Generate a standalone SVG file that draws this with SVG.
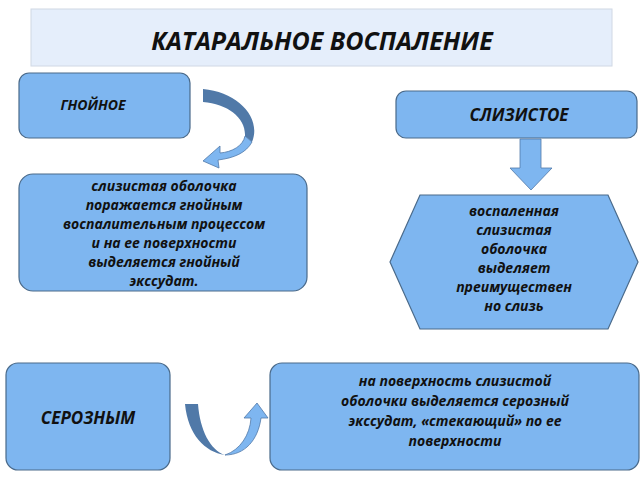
<svg xmlns="http://www.w3.org/2000/svg" width="640" height="480" viewBox="0 0 640 480">
<style>
.n{fill:#7eb6f0;stroke:#4a6a8a;stroke-width:1.2}
.t{font-family:"Open Sans","DejaVu Sans",sans-serif;font-weight:bold;font-style:italic;fill:#111;text-anchor:middle}
.s{font-size:14px}
.d{fill:#5079a8}
.l{fill:#7eb6f0;stroke:#5079a8;stroke-width:0.8}
</style>
<rect width="640" height="480" fill="#fff"/>
<g id="title"><rect x="31" y="9" width="581" height="57" fill="#e5eefb" stroke="#d0d8e4"/><text class="t" x="322" y="50" font-size="25">КАТАРАЛЬНОЕ ВОСПАЛЕНИЕ</text></g>
<g id="gnoinoe"><rect class="n" x="19" y="73" width="171" height="65" rx="10"/><text class="t s" x="93" y="110" font-size="16">ГНОЙНОЕ</text></g>
<g id="slizistoe"><rect class="n" x="396" y="91" width="241" height="47" rx="10"/><text class="t" x="519" y="121" font-size="17">СЛИЗИСТОЕ</text></g>
<g id="gnoinoe-desc"><rect class="n" x="19" y="174" width="288" height="117" rx="14"/>
<text class="t s" x="164" y="191">слизистая оболочка</text><text class="t s" x="164" y="210">поражается гнойным</text><text class="t s" x="164" y="229">воспалительным процессом</text><text class="t s" x="164" y="248">и на ее поверхности</text><text class="t s" x="164" y="267">выделяется гнойный</text><text class="t s" x="164" y="286">экссудат.</text></g>
<g id="slizistoe-desc"><polygon class="n" points="390,262 420,195 608,195 638,262 608,329 420,329"/>
<text class="t s" x="514" y="216">воспаленная</text><text class="t s" x="514" y="235">слизистая</text><text class="t s" x="514" y="254">оболочка</text><text class="t s" x="514" y="273">выделяет</text><text class="t s" x="514" y="292">преимуществен</text><text class="t s" x="514" y="311">но слизь</text></g>
<g id="seroznym"><rect class="n" x="6" y="363" width="164" height="107" rx="12"/><text class="t" x="88" y="424" font-size="17">СЕРОЗНЫМ</text></g>
<g id="seroznym-desc"><rect class="n" x="270" y="363" width="369" height="107" rx="12"/>
<text class="t s" x="455" y="386">на поверхность слизистой</text><text class="t s" x="455" y="406">оболочки выделяется серозный</text><text class="t s" x="455" y="426">экссудат, «стекающий» по  ее</text><text class="t s" x="455" y="446">поверхности</text></g>
<g id="connectors">
<path class="d" d="M203,89 C238,92 262,118 252,142 L245,136 C246,118 228,104 203,102 Z"/>
<path class="l" d="M252,142 C246,153 234,158 218,160 L219,168 L203,161 L220,146 L220,153 C232,152 243,146 245,136 Z"/>
<polygon class="l" points="520,139 541,139 541,168 552,168 531,190 510,168 520,168"/>
<path class="d" d="M185,404 L198,404 C200,430 210,450 225,455 C205,452 188,435 185,404 Z"/>
<path class="l" d="M225,455 C240,450 250,435 251,418 L244,418 L257,403 L268,418 L261,418 C258,440 245,455 225,455 Z"/>
</g>
</svg>
